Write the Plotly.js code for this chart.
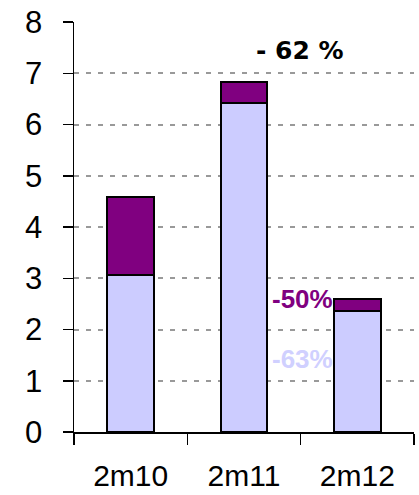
<!DOCTYPE html>
<html>
<head>
<meta charset="utf-8">
<script src="https://cdn.plot.ly/plotly-3.0.1.min.js"></script>
<style>html,body{margin:0;padding:0;background:#fff;}#chart{width:419px;height:495px;}</style>
</head>
<body>
<div id="chart"></div>
<script>
const categories = ["2m10", "2m11", "2m12"];
const lowerValues = [3.06, 6.41, 2.36];
const upperValues = [1.53, 0.41, 0.23];
const tickValues = [0, 1, 2, 3, 4, 5, 6, 7, 8];
const totalLabel = "- 62 %";
const upperLabel = "-50%";
const lowerLabel = "-63%";

const purple = "#800080";
const lavender = "#ccccff";
const sans = "Liberation Sans";

const traces = [
  {type: "bar", x: categories, y: lowerValues, marker: {color: lavender, line: {color: "#000", width: 2}}, hoverinfo: "none"},
  {type: "bar", x: categories, y: upperValues, marker: {color: purple, line: {color: "#000", width: 2}}, hoverinfo: "none"}
];

const layout = {
  width: 419, height: 495,
  margin: {l: 74, r: 5, t: 22, b: 63},
  barmode: "stack",
  bargap: 0.59,
  showlegend: false,
  paper_bgcolor: "#fff",
  plot_bgcolor: "#fff",
  font: {family: sans, color: "#000"},
  xaxis: {
    type: "category",
    tickson: "boundaries",
    ticks: "outside", ticklen: 11, tickwidth: 1.5, tickcolor: "#000",
    showline: true, linecolor: "#000", linewidth: 1.5,
    showgrid: false, zeroline: false,
    tickfont: {family: sans, size: 30, color: "#000"},
    ticklabelstandoff: 16
  },
  yaxis: {
    range: [0, 8],
    tickvals: tickValues,
    ticktext: tickValues.map(String),
    ticks: "outside", ticklen: 10, tickwidth: 1.5, tickcolor: "#000",
    showline: true, linecolor: "#000", linewidth: 1.5,
    showgrid: true, gridcolor: "#999999", griddash: "5px,7px", gridwidth: 2,
    zeroline: false,
    tickfont: {family: sans, size: 31, color: "#000"},
    ticklabelstandoff: 14
  },
  annotations: [
    {x: 1.49, y: 7.45, xref: "x", yref: "y", text: "<b>" + totalLabel + "</b>", showarrow: false,
     font: {family: "DejaVu Sans", size: 25, color: "#000"}},
    {x: 1.8, y: 2.6, xref: "x", yref: "y", xanchor: "right", text: "<b>" + upperLabel + "</b>", showarrow: false,
     font: {family: sans, size: 26, color: purple}},
    {x: 1.8, y: 1.42, xref: "x", yref: "y", xanchor: "right", text: "<b>" + lowerLabel + "</b>", showarrow: false,
     font: {family: sans, size: 26, color: "#d0d0ff"}}
  ]
};

Plotly.newPlot("chart", traces, layout, {staticPlot: true, displayModeBar: false});
</script>
</body>
</html>
